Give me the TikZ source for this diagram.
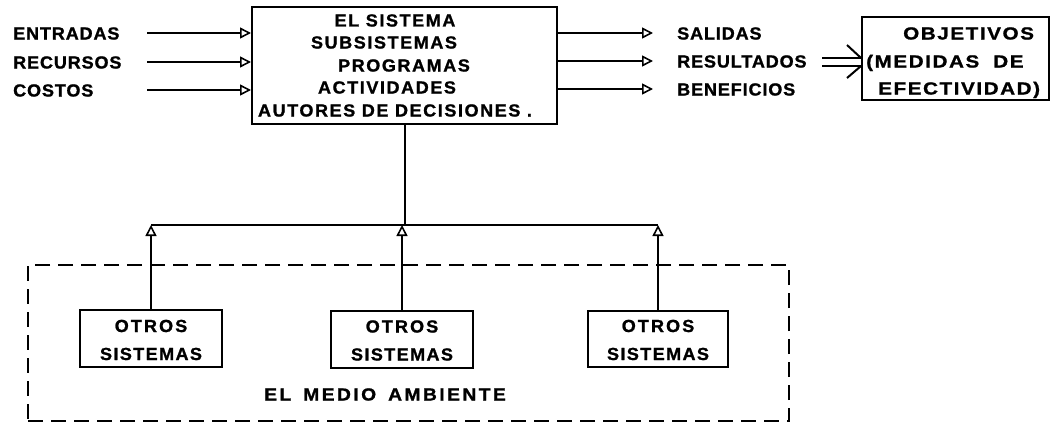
\documentclass[tikz,border=0pt]{standalone}
\usepackage{fontspec}
\newfontfamily\lf{Liberation Sans Bold}[LetterSpace=5,FakeBold=1.2,FakeStretch=1.03]
\usetikzlibrary{arrows.meta}
\begin{document}
\begin{tikzpicture}[x=1pt,y=-1pt,
  txt/.style={font=\lf\fontsize{17.5}{22.5}\selectfont, inner sep=0pt, anchor=base west},
  ctxt/.style={font=\lf\fontsize{17.5}{22.5}\selectfont, inner sep=0pt, anchor=base},
  systxt/.style={ctxt, font=\lf\fontsize{17.5}{22.5}\selectfont\addfontfeature{LetterSpace=9}},
  objtxt/.style={txt, font=\lf\fontsize{17.5}{22.5}\selectfont\addfontfeature{FakeStretch=1.18,LetterSpace=9}},
  box/.style={draw, line width=2pt, inner sep=0pt},
  conn/.style={line width=2pt},
  tri/.style={-{Triangle[open,length=11pt,width=11pt,line width=1.6pt]}},
  envbox/.style={draw, line width=2pt, dash pattern=on 15pt off 8pt, inner sep=0pt}
]
\useasboundingbox (0,0) rectangle (1052,423);

% main system box
\node[box, minimum width=305pt, minimum height=117pt] (sys) at (404.5,65.5) {};
\node[systxt] (s1) at (395,26.5) {EL SISTEMA};
\node[systxt] (s2) at (384,48.5) {SUBSISTEMAS};
\node[systxt] (s3) at (404,71.5) {PROGRAMAS};
\node[systxt] (s4) at (387,93.5) {ACTIVIDADES};
\node[systxt] (s5) at (395,116.5) {AUTORES DE DECISIONES .};

% inputs
\node[txt] (ent) at (13,39.5) {ENTRADAS};
\node[txt] (rec) at (13,68.5) {RECURSOS};
\node[txt] (cos) at (13,96.5) {COSTOS};
\coordinate (i1) at (147,33);
\coordinate (i2) at (147,62);
\coordinate (i3) at (147,90);
\draw[conn,tri] (i1) -- (sys.west |- i1);
\draw[conn,tri] (i2) -- (sys.west |- i2);
\draw[conn,tri] (i3) -- (sys.west |- i3);

% outputs
\coordinate (o1e) at (653,33);
\coordinate (o2e) at (653,61);
\coordinate (o3e) at (653,89);
\draw[conn,tri] (sys.east |- o1e) -- (o1e);
\draw[conn,tri] (sys.east |- o2e) -- (o2e);
\draw[conn,tri] (sys.east |- o3e) -- (o3e);
\node[txt] (sal) at (677,39.5) {SALIDAS};
\node[txt] (res) at (677,67.5) {RESULTADOS};
\node[txt] (ben) at (677,95.5) {BENEFICIOS};

% objectives box
\node[box, minimum width=187pt, minimum height=83pt] (obj) at (955.5,58.5) {};
\node[objtxt] (ob1) at (903,39.5) {OBJETIVOS};
\node[objtxt] (ob2) at (866,67.5) {(MEDIDAS\hspace{14pt}DE};
\node[objtxt] (ob3) at (878,94.5) {EFECTIVIDAD)};

% double arrow
\coordinate (r1) at (822,58);
\coordinate (r2) at (822,66);
\draw[conn] (r1) -- (obj.west |- r1);
\draw[conn] (r2) -- (obj.west |- r2);
\draw[conn] (obj.west |- r1) ++(-14,-13) -- ++(14,13);
\draw[conn] (obj.west |- r2) ++(-14,12) -- ++(14,-12);

% environment
\node[envbox, minimum width=761pt, minimum height=156pt] (env) at (408.5,343) {};
\node[txt, font=\lf\fontsize{17.5}{22.5}\selectfont\addfontfeature{FakeStretch=1.1,LetterSpace=14}] (envt) at (264,400.5) {EL\hspace{12pt}MEDIO\hspace{12pt}AMBIENTE};

\node[box, minimum width=142pt, minimum height=57pt] (ot1) at (151,338.5) {};
\node[box, minimum width=142pt, minimum height=57pt] (ot2) at (402,339) {};
\node[box, minimum width=140pt, minimum height=56pt] (ot3) at (658,338.5) {};
\foreach \b in {ot1,ot2,ot3}{
  \node[ctxt] (\b a) at ([yshift=6.5pt]\b.center) {\addfontfeature{LetterSpace=12}OTROS};
  \node[ctxt] (\b b) at ([yshift=-21.5pt]\b.center) {\addfontfeature{LetterSpace=8}SISTEMAS};
}

% bus
\coordinate (hl) at (402,225);
\draw[conn] (sys.south) -- (sys.south |- hl);
\draw[conn] (ot1.north |- hl) -- (ot3.north |- hl);
\draw[conn,tri] (ot1.north) -- (ot1.north |- hl);
\draw[conn,tri] (ot2.north) -- (ot2.north |- hl);
\draw[conn,tri] (ot3.north) -- (ot3.north |- hl);
\end{tikzpicture}
\end{document}
